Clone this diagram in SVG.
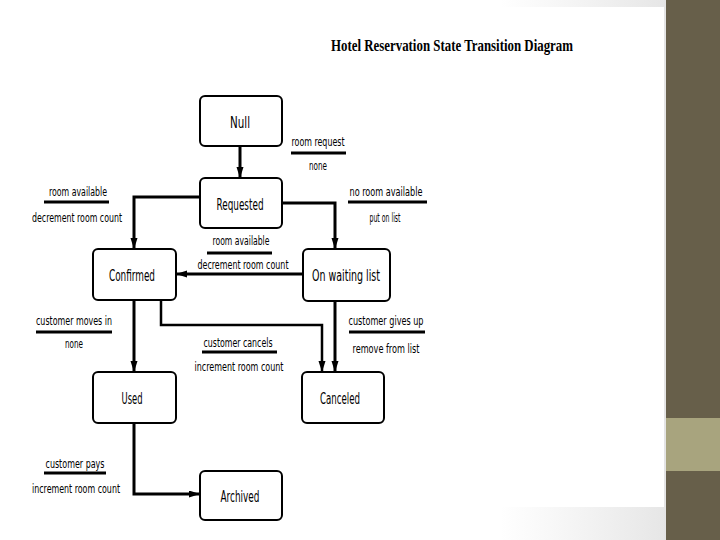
<svg xmlns="http://www.w3.org/2000/svg" width="720" height="540" viewBox="0 0 720 540">
<style>
.node rect{fill:#fff;stroke:#000;stroke-width:2}
.node text{font-family:"DejaVu Sans Condensed","Liberation Sans",sans-serif;font-size:16px;text-anchor:middle;fill:#000}
.conn path{fill:none;stroke:#000;stroke-width:3}
.lbl text{font-family:"DejaVu Sans Condensed","Liberation Sans",sans-serif;font-size:12.5px;text-anchor:middle;fill:#000}
.lbl line{stroke:#000;stroke-width:3}
.title{font-family:"Liberation Serif",serif;font-weight:bold;font-size:16px;fill:#000}
</style>
<defs>
<marker id="arr" markerUnits="userSpaceOnUse" markerWidth="11" markerHeight="8" refX="10" refY="3.5" orient="auto">
<path d="M0,0 L11,3.5 L0,7 z" fill="#000"/>
</marker>
<linearGradient id="fade" x1="0" y1="0" x2="1" y2="0">
<stop offset="0" stop-color="#e8e8e8" stop-opacity="0"/>
<stop offset="1" stop-color="#e6e6e6"/>
</linearGradient>
</defs>
<rect width="720" height="540" fill="#fff"/>
<rect x="500" y="0" width="166" height="7" fill="url(#fade)"/>
<rect x="500" y="507" width="166" height="33" fill="url(#fade)"/>
<rect x="664" y="0" width="2" height="540" fill="#e4e4e4"/>
<rect x="666" y="0" width="54" height="540" fill="#675f4a"/>
<rect x="666" y="418" width="54" height="53" fill="#a8a47e"/>

<text class="title" x="331" y="51" textLength="242" lengthAdjust="spacingAndGlyphs">Hotel Reservation State Transition Diagram</text>

<g id="connectors" class="conn">
<path d="M240,146 V177" marker-end="url(#arr)"/>
<path d="M200,197 H134 V248" marker-end="url(#arr)"/>
<path d="M282,203 H335 V248" marker-end="url(#arr)"/>
<path d="M303,274 H177" marker-end="url(#arr)"/>
<path d="M134,300 V371" marker-end="url(#arr)"/>
<path d="M161,300 V325 H322 V371" marker-end="url(#arr)" style="stroke-width:2.5"/>
<path d="M335,301 V371" marker-end="url(#arr)"/>
<path d="M134,423 V494 H199" marker-end="url(#arr)"/>
</g>

<g id="node-null" class="node"><rect x="200" y="96" width="82" height="50" rx="5"/><text x="240" y="128" textLength="20" lengthAdjust="spacingAndGlyphs">Null</text></g>
<g id="node-requested" class="node"><rect x="200" y="178" width="82" height="50" rx="5"/><text x="240" y="210" textLength="47" lengthAdjust="spacingAndGlyphs">Requested</text></g>
<g id="node-confirmed" class="node"><rect x="93" y="249" width="83" height="51" rx="5"/><text x="132" y="281" textLength="46" lengthAdjust="spacingAndGlyphs">Confirmed</text></g>
<g id="node-waiting" class="node"><rect x="303" y="249" width="87" height="52" rx="5"/><text x="346" y="281" textLength="68" lengthAdjust="spacingAndGlyphs">On waiting list</text></g>
<g id="node-used" class="node"><rect x="93" y="372" width="83" height="51" rx="5"/><text x="132" y="404" textLength="21" lengthAdjust="spacingAndGlyphs">Used</text></g>
<g id="node-canceled" class="node"><rect x="302" y="372" width="82" height="51" rx="5"/><text x="340" y="404" textLength="40" lengthAdjust="spacingAndGlyphs">Canceled</text></g>
<g id="node-archived" class="node"><rect x="200" y="471" width="82" height="49" rx="5"/><text x="240" y="502" textLength="39" lengthAdjust="spacingAndGlyphs">Archived</text></g>

<g id="labels" class="lbl">
<text x="318" y="146" textLength="53" lengthAdjust="spacingAndGlyphs">room request</text>
<line x1="291" y1="153" x2="346" y2="153"/>
<text x="318" y="170" textLength="18" lengthAdjust="spacingAndGlyphs">none</text>

<text x="78" y="196" textLength="58" lengthAdjust="spacingAndGlyphs">room available</text>
<line x1="44" y1="202" x2="109" y2="202"/>
<text x="77" y="222" textLength="90" lengthAdjust="spacingAndGlyphs">decrement room count</text>

<text x="386" y="196" textLength="73" lengthAdjust="spacingAndGlyphs">no room available</text>
<line x1="348" y1="202" x2="427" y2="202"/>
<text x="385" y="222" textLength="31" lengthAdjust="spacingAndGlyphs">put on list</text>

<text x="241" y="245" textLength="57" lengthAdjust="spacingAndGlyphs">room available</text>
<line x1="207" y1="253" x2="272" y2="253"/>
<text x="243" y="269" textLength="91" lengthAdjust="spacingAndGlyphs">decrement room count</text>

<text x="74" y="325" textLength="76" lengthAdjust="spacingAndGlyphs">customer moves in</text>
<line x1="36" y1="332" x2="112" y2="332"/>
<text x="74" y="348" textLength="18" lengthAdjust="spacingAndGlyphs">none</text>

<text x="238" y="347" textLength="69" lengthAdjust="spacingAndGlyphs">customer cancels</text>
<line x1="202" y1="352" x2="277" y2="352"/>
<text x="239" y="371" textLength="89" lengthAdjust="spacingAndGlyphs">increment room count</text>

<text x="386" y="325" textLength="75" lengthAdjust="spacingAndGlyphs">customer gives up</text>
<line x1="349" y1="332" x2="425" y2="332"/>
<text x="386" y="353" textLength="67" lengthAdjust="spacingAndGlyphs">remove from list</text>

<text x="75" y="468" textLength="59" lengthAdjust="spacingAndGlyphs">customer pays</text>
<line x1="44" y1="473" x2="106" y2="473"/>
<text x="76" y="493" textLength="88" lengthAdjust="spacingAndGlyphs">increment room count</text>
</g>
</svg>
